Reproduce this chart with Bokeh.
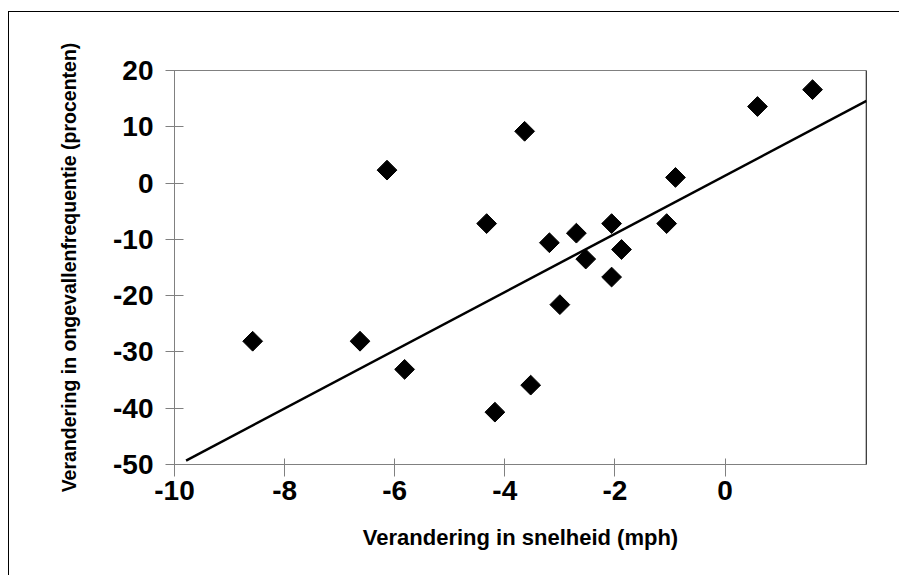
from bokeh.plotting import figure
from bokeh.models import FixedTicker, Span, Range1d
from bokeh.embed import file_html
from bokeh.resources import INLINE

# Change in speed (mph) vs change in accident frequency (percent)
speed_change = [-8.58, -6.63, -6.14, -5.82, -4.33, -3.64, -4.18, -3.53, -3.19, -3.00,
                -2.70, -2.53, -2.06, -2.06, -1.88, -1.06, -0.90, 0.59, 1.59]
accident_change = [-28.1, -28.1, 2.3, -33.1, -7.2, 9.2, -40.7, -35.9, -10.6, -21.6,
                   -8.9, -13.5, -7.2, -16.7, -11.8, -7.2, 1.0, 13.6, 16.6]

# Trend line end points
trend_x = [-9.79, 2.57]
trend_y = [-49.3, 14.6]

x_ticks = [-10, -8, -6, -4, -2, 0]
y_ticks = [20, 10, 0, -10, -20, -30, -40, -50]
x_end = 2.57

x_title = "Verandering in snelheid (mph)"
y_title = "Verandering in ongevallenfrequentie (procenten)"

FONT = "Liberation Sans"
GRAY = "#808080"

p = figure(width=891, height=564, output_backend="svg", toolbar_location=None,
           x_range=Range1d(x_ticks[0], x_end), y_range=Range1d(y_ticks[-1], y_ticks[0]),
           min_border_left=165, min_border_right=34, min_border_top=58,
           min_border_bottom=112,
           background_fill_color="white", border_fill_color="white")
p.styles = {"border-left": "1px solid black", "border-top": "1px solid black",
            "margin-top": "11px", "margin-left": "8px"}

p.xgrid.visible = False
p.ygrid.visible = False
p.outline_line_color = GRAY
p.outline_line_width = 1

p.xaxis.ticker = FixedTicker(ticks=x_ticks)
p.yaxis.ticker = FixedTicker(ticks=y_ticks)
p.xaxis.major_label_overrides = {t: str(t) for t in x_ticks}
p.yaxis.major_label_overrides = {t: str(t) for t in y_ticks}
for ax in (p.xaxis, p.yaxis):
    ax.axis_line_color = GRAY
    ax.major_tick_line_color = GRAY
    ax.minor_tick_line_color = None
    ax.major_label_text_font = FONT
    ax.major_label_text_font_style = "bold"
    ax.major_label_text_font_size = "28px"
    ax.major_label_text_color = "black"
    ax.axis_label_text_font = FONT
    ax.axis_label_text_font_style = "bold"
    ax.axis_label_text_color = "black"

p.xaxis.major_tick_in = 6
p.xaxis.major_tick_out = 12
p.yaxis.major_tick_in = 9
p.yaxis.major_tick_out = 9
p.xaxis.major_label_standoff = 4
p.yaxis.major_label_standoff = 12

p.xaxis.axis_label = x_title
p.xaxis.axis_label_text_font_size = "22px"
p.xaxis.axis_label_standoff = 22
p.yaxis.axis_label = y_title
p.yaxis.axis_label_text_font_size = "19.5px"
p.yaxis.axis_label_standoff = 30

p.add_layout(Span(location=x_end, dimension="height",
                  line_color="black", line_width=1.5))

p.line(trend_x, trend_y, line_color="black", line_width=2.5)
p.scatter(speed_change, accident_change, marker="square", size=14, angle=45,
          angle_units="deg", fill_color="black", line_color="black")

open("out.html", "w").write(file_html(p, INLINE))
